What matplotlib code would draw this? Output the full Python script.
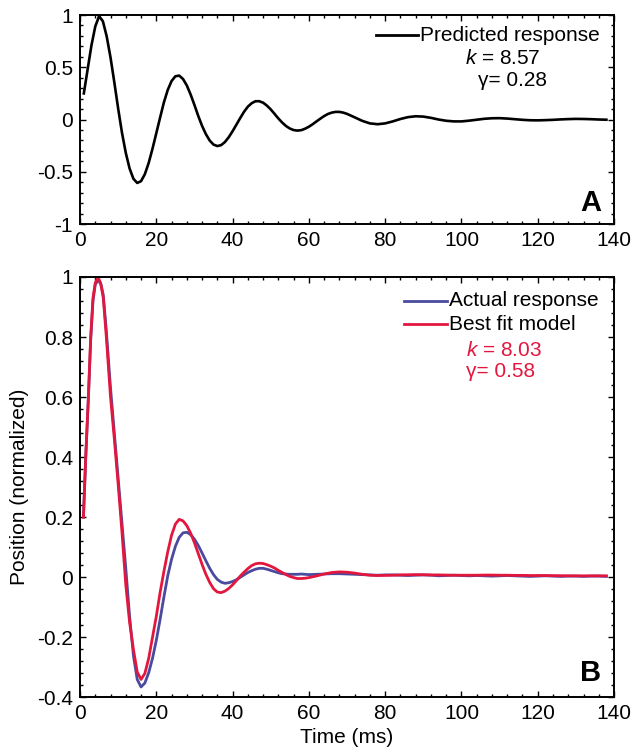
import matplotlib
matplotlib.use("Agg")
import matplotlib.pyplot as plt
from matplotlib.ticker import MultipleLocator

plt.rcParams["font.family"] = ["Liberation Sans", "DejaVu Sans"]
plt.rcParams["mathtext.fontset"] = "custom"
plt.rcParams["mathtext.it"] = "Liberation Sans:italic"
plt.rcParams["mathtext.rm"] = "Liberation Sans"

# === Panel A: predicted response (k = 8.57, gamma = 0.28) ===
t_pred = list(range(1, 71)) + list(range(72, 139, 2))
y_pred = [0.25, 0.48, 0.71, 0.89, 0.99, 0.94, 0.795, 0.593, 0.355, 0.105,
          -0.126, -0.319, -0.469, -0.567, -0.607, -0.590, -0.523, -0.416, -0.280, -0.131,
          0.019, 0.165, 0.283, 0.368, 0.414, 0.420, 0.388, 0.326, 0.239, 0.139,
          0.034, -0.061, -0.140, -0.201, -0.240, -0.254, -0.245, -0.215, -0.169, -0.112,
          -0.049, 0.014, 0.074, 0.123, 0.156, 0.175, 0.175, 0.161, 0.133, 0.097,
          0.054, 0.010, -0.029, -0.062, -0.086, -0.101, -0.106, -0.102, -0.088, -0.069,
          -0.045, -0.018, 0.008, 0.033, 0.053, 0.066, 0.073, 0.073, 0.066, 0.054,
          0.021, -0.013, -0.037, -0.045, -0.037, -0.018, 0.005, 0.023, 0.031, 0.028,
          0.016, 0.000, -0.012, -0.018, -0.018, -0.011, -0.002, 0.007, 0.012, 0.013,
          0.009, 0.003, -0.003, -0.007, -0.008, -0.006, -0.003, 0.001, 0.004, 0.006,
          0.005, 0.003, 0.000, -0.002]

# === Panel B: actual response vs best fit (k = 8.03, gamma = 0.58) ===
t_early_fit = [0.9, 1.5, 2.2, 2.8, 3.4, 4.0, 4.7, 5.4, 6.1, 6.9]
t_early_act = [0.9, 1.5, 2.2, 2.8, 3.4, 4.0, 4.8, 5.5, 6.1, 6.9]
t_rest = list(range(8, 61)) + list(range(62, 139, 2))
t_fit = t_early_fit + t_rest
t_act = t_early_act + t_rest

y_fit = [0.20, 0.40, 0.60, 0.80, 0.93, 0.98, 1.00, 0.98, 0.93, 0.80,
         0.60, 0.46, 0.31, 0.15, -0.025, -0.15, -0.24, -0.315, -0.34, -0.32,
         -0.27, -0.20, -0.13, -0.05, 0.02, 0.085, 0.14, 0.177, 0.193, 0.188,
         0.172, 0.147, 0.115, 0.079, 0.043, 0.010, -0.017, -0.038, -0.049, -0.051,
         -0.046, -0.037, -0.025, -0.011, 0.004, 0.017, 0.029, 0.039, 0.045, 0.047,
         0.046, 0.042, 0.037, 0.031, 0.023, 0.016, 0.009, 0.003, -0.001, -0.004,
         -0.004, -0.003, -0.001,
         0.0045, 0.011, 0.016, 0.018, 0.017, 0.014, 0.010, 0.007, 0.006, 0.0065,
         0.007, 0.008, 0.0085, 0.009, 0.0085, 0.008, 0.008, 0.0075, 0.007, 0.007,
         0.007, 0.007, 0.0075, 0.0075, 0.007, 0.007, 0.0065, 0.0065, 0.006, 0.006,
         0.006, 0.0055, 0.0055, 0.005, 0.005, 0.005, 0.005, 0.005, 0.005]

y_act = [0.20, 0.40, 0.60, 0.79, 0.92, 0.975, 0.99, 0.975, 0.94, 0.82,
         0.63, 0.48, 0.33, 0.18, 0.03, -0.13, -0.26, -0.34, -0.365, -0.352,
         -0.318, -0.27, -0.21, -0.14, -0.065, 0.005, 0.06, 0.103, 0.133, 0.148,
         0.15, 0.142, 0.127, 0.106, 0.081, 0.055, 0.03, 0.009, -0.007, -0.016,
         -0.02, -0.018, -0.014, -0.008, 0.0, 0.008, 0.016, 0.022, 0.027, 0.03,
         0.03, 0.027, 0.023, 0.019, 0.015, 0.012, 0.011, 0.010, 0.010, 0.010,
         0.011, 0.010, 0.009,
         0.010, 0.011, 0.012, 0.012, 0.011, 0.010, 0.009, 0.008, 0.007, 0.008,
         0.008, 0.007, 0.006, 0.007, 0.008, 0.007, 0.005, 0.006, 0.007, 0.006,
         0.005, 0.006, 0.005, 0.004, 0.005, 0.006, 0.005, 0.004, 0.003, 0.004,
         0.005, 0.004, 0.003, 0.004, 0.004, 0.003, 0.004, 0.004, 0.003]

ticks_x = [0, 20, 40, 60, 80, 100, 120, 140]
ticks_a = [-1, -0.5, 0, 0.5, 1]
labels_a = ["-1", "-0.5", "0", "0.5", "1"]
ticks_b = [-0.4, -0.2, 0, 0.2, 0.4, 0.6, 0.8, 1]
labels_b = ["-0.4", "-0.2", "0", "0.2", "0.4", "0.6", "0.8", "1"]

RED = "#e3173e"
BLUE = "#4a4a9e"
FS = 15

fig = plt.figure(figsize=(6.34, 7.55), dpi=100)
ax1 = fig.add_axes([0.1262, 0.7033, 0.8423, 0.2768])
ax2 = fig.add_axes([0.1262, 0.0762, 0.8423, 0.5570])


def style_axes(ax, yticks, ylabels, ylim, yminor):
    ax.set_xlim(0, 140)
    ax.set_ylim(*ylim)
    ax.set_xticks(ticks_x)
    ax.set_xticklabels([str(v) for v in ticks_x])
    ax.set_yticks(yticks)
    ax.set_yticklabels(ylabels)
    ax.xaxis.set_minor_locator(MultipleLocator(4))
    ax.yaxis.set_minor_locator(MultipleLocator(yminor))
    ax.tick_params(which="both", direction="in", top=True, right=True,
                   labelsize=FS, width=1.0, pad=5)
    ax.tick_params(which="major", length=4.5)
    ax.tick_params(which="minor", length=2)
    for sp in ax.spines.values():
        sp.set_linewidth(1.4)


def legend_entry(ax, y, color, text):
    # short line sample + label, placed in axes coordinates
    ax.plot([x_line0, x_line1], [y, y], color=color, lw=2.0,
            transform=ax.transAxes, clip_on=False)
    ax.text(x_line1 + 0.004, y, text, transform=ax.transAxes, fontsize=FS,
            ha="left", va="center")


# --- panel A ---
ax1.plot(t_pred, y_pred, color="black", lw=1.9)
style_axes(ax1, ticks_a, labels_a, (-1, 1), 0.1)
x_line0, x_line1 = 0.554, 0.633
legend_entry(ax1, 0.904, "black", "Predicted response")
ax1.text(0.721, 0.794, "$k$ = 8.57", transform=ax1.transAxes, fontsize=FS,
         ha="left", va="center")
ax1.text(0.745, 0.689, "\u03b3= 0.28", transform=ax1.transAxes, fontsize=FS,
         ha="left", va="center")
ax1.text(0.976, 0.033, "A", transform=ax1.transAxes, fontsize=21,
         fontweight="bold", ha="right", va="bottom")

# --- panel B ---
ax2.plot(t_act, y_act, color=BLUE, lw=2.0)
ax2.plot(t_fit, y_fit, color=RED, lw=2.0)
style_axes(ax2, ticks_b, labels_b, (-0.4, 1), 0.04)
x_line0, x_line1 = 0.607, 0.687
legend_entry(ax2, 0.9436, BLUE, "Actual response")
legend_entry(ax2, 0.888, RED, "Best fit model")
ax2.text(0.723, 0.826, "$k$ = 8.03", transform=ax2.transAxes, fontsize=FS,
         ha="left", va="center", color=RED)
ax2.text(0.723, 0.774, "\u03b3= 0.58", transform=ax2.transAxes, fontsize=FS,
         ha="left", va="center", color=RED)
ax2.text(0.976, 0.026, "B", transform=ax2.transAxes, fontsize=21,
         fontweight="bold", ha="right", va="bottom")
ax2.set_xlabel("Time (ms)", fontsize=FS, labelpad=3)
ax2.set_ylabel("Position (normalized)", fontsize=FS, labelpad=6)

fig.savefig("out.png", dpi=100)
